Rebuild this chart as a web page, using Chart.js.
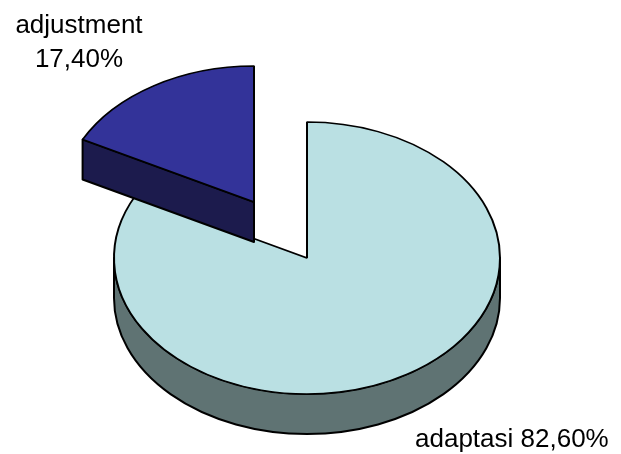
<!DOCTYPE html>
<html>
<head>
<meta charset="utf-8">
<script src="https://cdn.jsdelivr.net/npm/chart.js@4"></script>
<style>
  html, body { margin: 0; padding: 0; background: #fff; }
  canvas { display: block; }
</style>
</head>
<body>
<canvas id="pieChart" width="621" height="454"></canvas>
<script>
// Slice data
const labels = ["adaptasi", "adjustment"];
const values = [82.6, 17.4];

// Top face and side wall colours per slice
const topColors = ["#BAE0E3", "#333399"];
const sideColors = ["#5F7373", "#1C1B4D"];

// 3D look: vertical squash of the disc, wall height in px, pull-out of each slice (px)
const TILT = 136 / 193;
const DEPTH = 40;
const explode = [[0, 0], [-53, -56]];

// Where each slice's label goes
const labelSpots = [
  { x: 415, y: 447, align: "left", split: false },
  { x: 79, y: 33, align: "center", split: true, gap: 34 }
];

const fmt = v => v.toFixed(2).replace(".", ",") + "%";

// parts of [s, e] that lie on the half of the rim facing the viewer
function frontRanges(s, e) {
  const out = [];
  for (let k = -1; k <= 1; k++) {
    const a0 = Math.max(s, k * 2 * Math.PI);
    const a1 = Math.min(e, k * 2 * Math.PI + Math.PI);
    if (a1 > a0) out.push([a0, a1]);
  }
  return out;
}

function fillAndStroke(ctx, base) {
  ctx.fill();
  // stroke without the squash so lines keep an even width
  ctx.save();
  ctx.setTransform(base);
  ctx.stroke();
  ctx.restore();
}

function drawSides(ctx, base, arc, depth, color) {
  const { x, y, startAngle: s, endAngle: e, outerRadius: r } = arc;
  ctx.fillStyle = color;
  ctx.strokeStyle = "#000";
  ctx.lineWidth = 2;
  ctx.lineJoin = "round";

  // radial cut faces turned towards the viewer
  [[s, Math.cos(s) < -1e-6], [e, Math.cos(e) > 1e-6]].forEach(([a, visible]) => {
    if (!visible) return;
    const px = x + r * Math.cos(a), py = y + r * Math.sin(a);
    ctx.beginPath();
    ctx.moveTo(x, y);
    ctx.lineTo(px, py);
    ctx.lineTo(px, py + depth);
    ctx.lineTo(x, y + depth);
    ctx.closePath();
    fillAndStroke(ctx, base);
  });

  // outer wall
  frontRanges(s, e).forEach(([a0, a1]) => {
    ctx.beginPath();
    ctx.arc(x, y, r, a0, a1);
    ctx.arc(x, y + depth, r, a1, a0, true);
    ctx.closePath();
    fillAndStroke(ctx, base);
  });
}

const pie3d = {
  id: "pie3d",
  beforeDatasetsDraw(chart) {
    const ctx = chart.ctx;
    const arcs = chart.getDatasetMeta(0).data;
    const base = ctx.getTransform();
    const cy = arcs[0].y;
    ctx.save();
    ctx.translate(0, cy);
    ctx.scale(1, TILT);
    ctx.translate(0, -cy);
    arcs.forEach((arc, i) => {
      ctx.save();
      ctx.translate(explode[i][0], explode[i][1] / TILT);
      drawSides(ctx, base, arc, DEPTH / TILT, sideColors[i]);
      arc.draw(ctx);
      ctx.restore();
    });
    ctx.restore();
    return false;
  },
  afterDraw(chart) {
    const ctx = chart.ctx;
    ctx.save();
    ctx.fillStyle = "#000";
    ctx.font = "26px 'Liberation Sans', Arial, sans-serif";
    ctx.textBaseline = "alphabetic";
    labels.forEach((name, i) => {
      const spot = labelSpots[i];
      ctx.textAlign = spot.align;
      if (spot.split) {
        ctx.fillText(name, spot.x, spot.y);
        ctx.fillText(fmt(values[i]), spot.x, spot.y + spot.gap);
      } else {
        ctx.fillText(name + " " + fmt(values[i]), spot.x, spot.y);
      }
    });
    ctx.restore();
  }
};

new Chart(document.getElementById("pieChart"), {
  type: "pie",
  data: {
    labels: labels,
    datasets: [{
      data: values,
      backgroundColor: topColors,
      borderColor: "#000",
      borderWidth: 2,
      radius: 193
    }]
  },
  options: {
    responsive: false,
    animation: false,
    devicePixelRatio: 1,
    events: [],
    layout: { padding: { left: 0, right: 7, top: 62, bottom: 0 } },
    plugins: {
      legend: { display: false },
      tooltip: { enabled: false }
    }
  },
  plugins: [pie3d]
});
</script>
</body>
</html>
